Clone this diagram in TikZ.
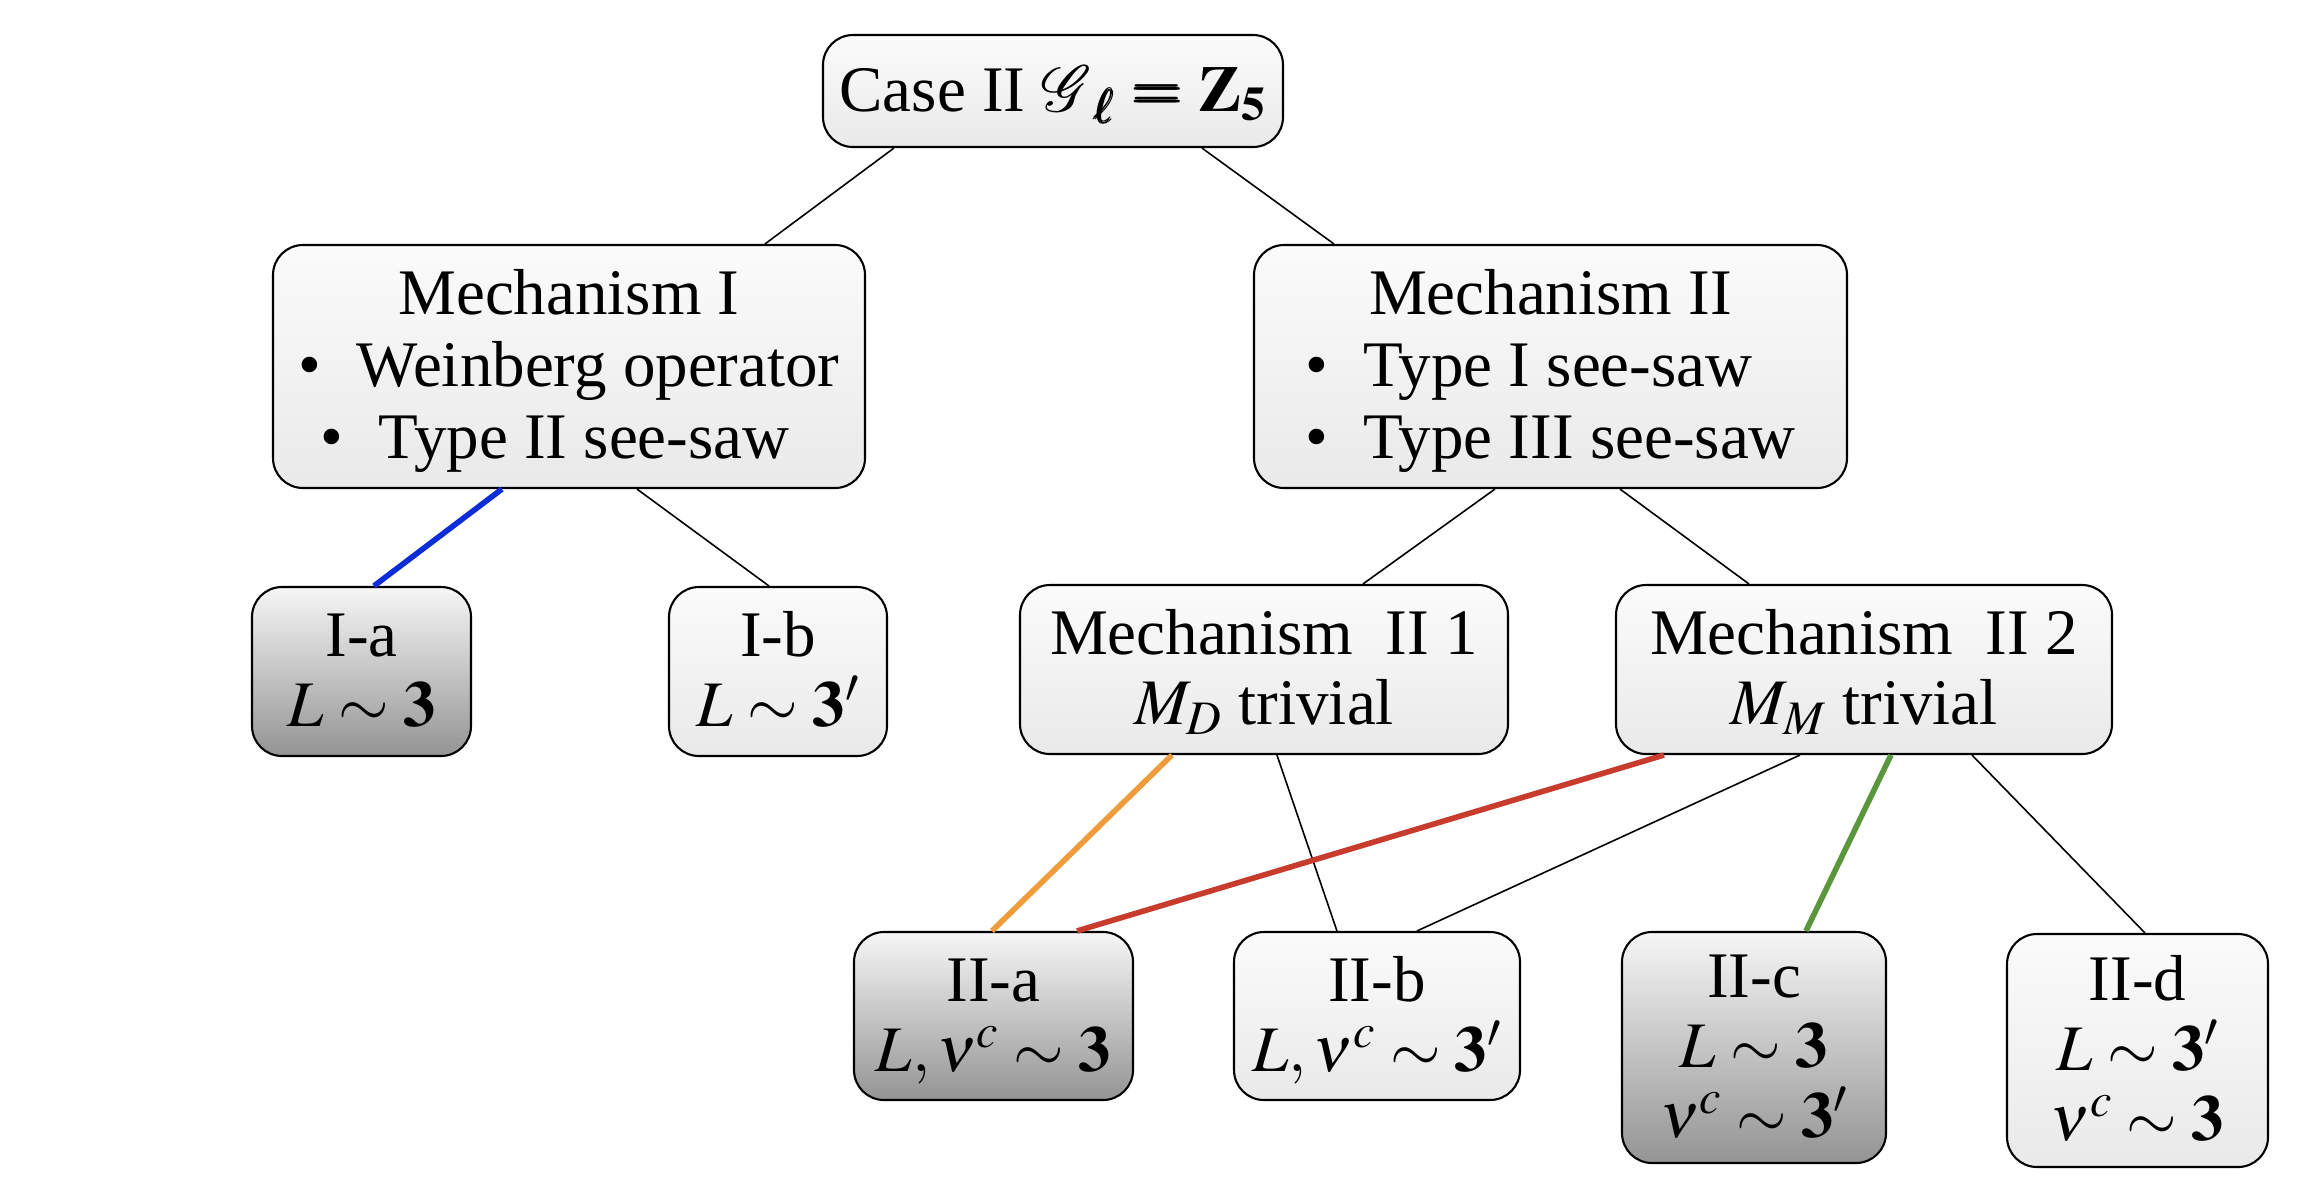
\documentclass[tikz,border=0pt]{standalone}
\usepackage{amsmath}
\usepackage{mathptmx}
\usepackage{bm}
\usepackage[no-math]{fontspec}
\setmainfont{Liberation Serif}
\usetikzlibrary{calc}
\definecolor{lighttop}{gray}{0.985}
\definecolor{lightbot}{gray}{0.915}
\definecolor{darktop}{gray}{0.965}
\definecolor{darkbot}{gray}{0.58}
\definecolor{cblue}{RGB}{10,45,215}
\definecolor{corange}{RGB}{240,155,60}
\definecolor{cred}{RGB}{200,60,45}
\definecolor{cgreen}{RGB}{90,150,60}
\newcommand\fstr{\rule{0pt}{28pt}}
\newcommand\lstr{\rule[-8pt]{0pt}{8pt}}
\newcommand\bul{•\hspace{0.55em}}
\tikzset{
  box/.style={draw=black, line width=1.05pt, rounded corners=15pt, inner sep=0pt,
    align=center, font=\fontsize{32.5}{35}\selectfont},
  widebox/.style={font=\fontsize{32.5}{36}\selectfont},
  lightbox/.style={box, top color=lighttop, bottom color=lightbot},
  darkbox/.style={box, top color=darktop, bottom color=darkbot},
  thin/.style={line width=0.8pt, black},
  thick/.style={line width=2.8pt}
}
\begin{document}
\begin{tikzpicture}[x=0.5pt,y=-0.5pt]
\useasboundingbox (0,0) rectangle (2300,1200);
\node[lightbox, minimum width=230pt, minimum height=56pt] (top) at (1053,91)
  {\fstr Case II $\bm{\mathcal{G}}_{\bm{\ell}}\bm{=}\mathbf{Z}_{\mathbf{5}}$\lstr};
\node[lightbox, widebox, minimum width=296pt, minimum height=121.5pt] (mI) at (569,366.5)
  {\fstr Mechanism I\\ \bul Weinberg operator\\ \bul Type II see-saw\rule{14pt}{0pt}\lstr};
\node[lightbox, widebox, minimum width=296.5pt, minimum height=121.5pt] (mII) at (1550.5,366.5)
  {\fstr Mechanism II\\ \bul Type I see-saw\hphantom{II}\\ \bul Type III see-saw\lstr};
\node[darkbox, minimum width=109.5pt, minimum height=84.5pt] (Ia) at (361.5,671.5)
  {\fstr I-a\\ $L\sim\mathbf{3}$\lstr};
\node[lightbox, minimum width=109pt, minimum height=84.5pt] (Ib) at (778,671.5)
  {\fstr I-b\\ $L\sim\mathbf{3}'$\lstr};
\node[lightbox, minimum width=244pt, minimum height=84.5pt] (m1) at (1264,669.5)
  {\fstr Mechanism\ \ II 1\\ $M_D$ trivial\lstr};
\node[lightbox, minimum width=248pt, minimum height=84.5pt] (m2) at (1864,669.5)
  {\fstr Mechanism\ \ II 2\\ $M_M$ trivial\lstr};
\node[darkbox, minimum width=139.5pt, minimum height=84pt] (IIa) at (993.5,1016)
  {\fstr II-a\\ $L,\nu^c\sim\mathbf{3}$\lstr};
\node[lightbox, minimum width=143pt, minimum height=84pt] (IIb) at (1377,1016)
  {\fstr II-b\\ $L,\nu^c\sim\mathbf{3}'$\lstr};
\node[darkbox, minimum width=132pt, minimum height=115.5pt] (IIc) at (1754,1047.5)
  {\fstr II-c\\ $L\sim\mathbf{3}$\\ $\nu^c\sim\mathbf{3}'$\lstr};
\node[lightbox, minimum width=130.5pt, minimum height=116.5pt] (IId) at (2137.5,1050.5)
  {\fstr II-d\\ $L\sim\mathbf{3}'$\\ $\nu^c\sim\mathbf{3}$\lstr};
% connectors
\draw[thin] ($(top.south west)+(72,0)$) -- ($(mI.north west)+(493,0)$);
\draw[thin] ($(top.south west)+(380,0)$) -- ($(mII.north west)+(81,0)$);
\draw[thick, cblue] ($(mI.south west)+(230,0)$) -- ($(Ia.north west)+(123,0)$);
\draw[thin] ($(mI.south west)+(365,0)$) -- ($(Ib.north west)+(101,0)$);
\draw[thin] ($(mII.south west)+(242,0)$) -- ($(m1.north west)+(344,0)$);
\draw[thin] ($(mII.south west)+(367,0)$) -- ($(m2.north west)+(134,0)$);
\draw[thick, corange] ($(m1.south west)+(153,0)$) -- ($(IIa.north west)+(139,0)$);
\draw[thin] ($(m1.south west)+(258,0)$) -- ($(IIb.north west)+(104,0)$);
\draw[thick, cred] ($(m2.south west)+(49,0)$) -- ($(IIa.north west)+(224,0)$);
\draw[thin] ($(m2.south west)+(185,0)$) -- ($(IIb.north west)+(184,0)$);
\draw[thick, cgreen] ($(m2.south west)+(276,0)$) -- ($(IIc.north west)+(185,0)$);
\draw[thin] ($(m2.south west)+(357,0)$) -- ($(IId.north west)+(139,0)$);
\end{tikzpicture}
\end{document}
